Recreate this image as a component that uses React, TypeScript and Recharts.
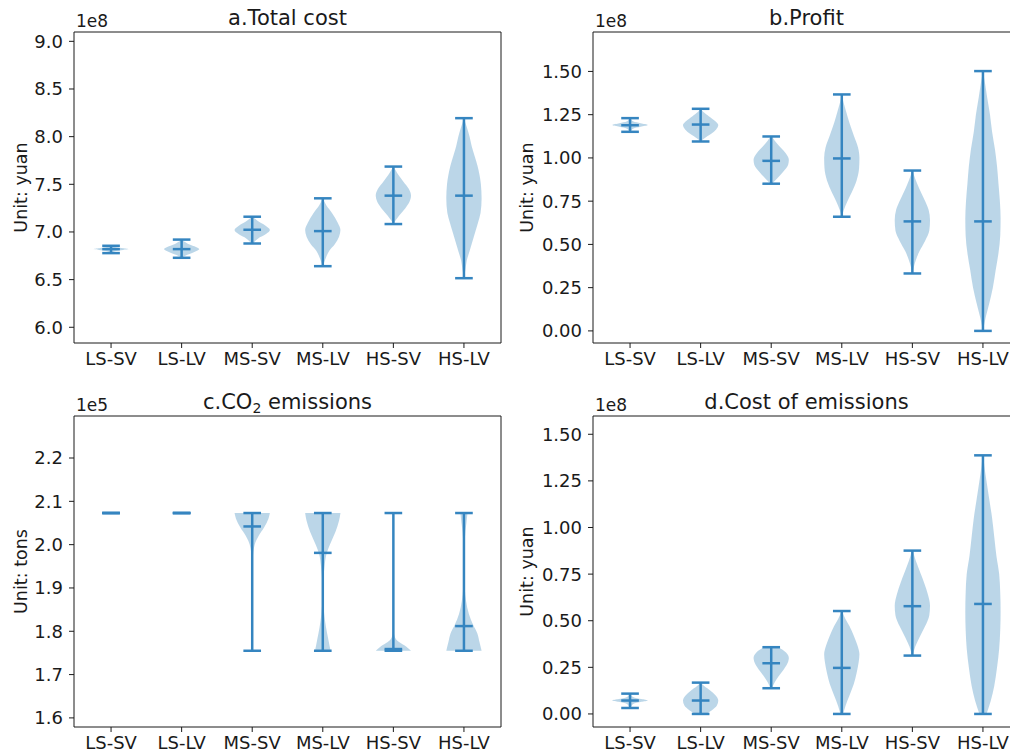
import { ComposedChart, Area, Line, XAxis, YAxis, ReferenceArea } from 'recharts';

const CATEGORIES = ['LS-SV', 'LS-LV', 'MS-SV', 'MS-LV', 'HS-SV', 'HS-LV'];
const POSITIONS = [1, 2, 3, 4, 5, 6];
const X_RANGE = [0.475, 6.525];

// a. Total cost (1e8 yuan)
const COST_MIN = [6.778, 6.729, 6.879, 6.641, 7.083, 6.515];
const COST_MAX = [6.855, 6.92, 7.16, 7.353, 7.686, 8.194];
const COST_MEDIAN = [6.82, 6.82, 7.023, 7.009, 7.381, 7.381];
const COST_TICKS = [6.0, 6.5, 7.0, 7.5, 8.0, 8.5, 9.0];
const COST_RANGE = [5.835, 9.098];
// violin outlines: [value, half width]
const COST_SHAPES = [
  [[6.778, 0.01], [6.8, 0.07], [6.812, 0.17], [6.82, 0.25], [6.83, 0.17], [6.84, 0.07], [6.855, 0.01]],
  [[6.729, 0], [6.76, 0.08], [6.79, 0.18], [6.82, 0.25], [6.85, 0.18], [6.88, 0.08], [6.92, 0]],
  [[6.879, 0.01], [6.93, 0.08], [6.98, 0.2], [7.02, 0.25], [7.07, 0.18], [7.12, 0.07], [7.16, 0.01]],
  [[6.641, 0], [6.68, 0.02], [6.74, 0.05], [6.8, 0.09], [6.87, 0.17], [6.95, 0.23], [7.02, 0.25], [7.1, 0.21], [7.2, 0.13], [7.28, 0.05], [7.353, 0]],
  [[7.083, 0], [7.12, 0.03], [7.17, 0.08], [7.25, 0.17], [7.32, 0.23], [7.38, 0.25], [7.45, 0.22], [7.53, 0.14], [7.6, 0.07], [7.65, 0.03], [7.686, 0]],
  [[6.515, 0], [6.6, 0.02], [6.7, 0.04], [6.8, 0.08], [6.9, 0.12], [7.0, 0.16], [7.1, 0.2], [7.2, 0.235], [7.35, 0.25], [7.5, 0.24], [7.6, 0.22], [7.7, 0.19], [7.8, 0.15], [7.9, 0.11], [8.0, 0.08], [8.1, 0.04], [8.194, 0]],
];

// b. Profit (1e8 yuan)
const PROFIT_MIN = [1.151, 1.095, 0.851, 0.66, 0.332, 0];
const PROFIT_MAX = [1.23, 1.284, 1.124, 1.367, 0.927, 1.502];
const PROFIT_MEDIAN = [1.189, 1.193, 0.983, 0.997, 0.633, 0.633];
const PROFIT_TICKS = [0, 0.25, 0.5, 0.75, 1.0, 1.25, 1.5];
const PROFIT_RANGE = [-0.07, 1.728];
const PROFIT_SHAPES = [
  [[1.151, 0.005], [1.17, 0.05], [1.18, 0.15], [1.19, 0.25], [1.2, 0.15], [1.21, 0.05], [1.23, 0.005]],
  [[1.095, 0], [1.11, 0.04], [1.14, 0.15], [1.165, 0.22], [1.19, 0.25], [1.215, 0.2], [1.24, 0.12], [1.265, 0.04], [1.284, 0]],
  [[0.851, 0.01], [0.88, 0.08], [0.92, 0.17], [0.96, 0.24], [0.99, 0.25], [1.03, 0.2], [1.07, 0.11], [1.1, 0.05], [1.124, 0.01]],
  [[0.66, 0], [0.7, 0.03], [0.75, 0.08], [0.8, 0.14], [0.87, 0.21], [0.94, 0.245], [1.0, 0.25], [1.06, 0.23], [1.13, 0.17], [1.2, 0.11], [1.27, 0.06], [1.32, 0.025], [1.367, 0]],
  [[0.332, 0], [0.37, 0.02], [0.41, 0.05], [0.46, 0.1], [0.52, 0.18], [0.58, 0.24], [0.64, 0.25], [0.7, 0.23], [0.76, 0.17], [0.82, 0.1], [0.87, 0.05], [0.927, 0]],
  [[0, 0], [0.08, 0.04], [0.16, 0.09], [0.25, 0.14], [0.35, 0.18], [0.45, 0.22], [0.55, 0.245], [0.65, 0.25], [0.75, 0.24], [0.85, 0.22], [0.95, 0.2], [1.05, 0.17], [1.15, 0.13], [1.25, 0.1], [1.35, 0.06], [1.43, 0.03], [1.502, 0]],
];

// c. CO2 emissions (1e5 tons)
const CO2_MIN = [2.073, 2.073, 1.755, 1.755, 1.755, 1.755];
const CO2_MAX = [2.073, 2.073, 2.073, 2.073, 2.073, 2.073];
const CO2_MEDIAN = [2.073, 2.073, 2.042, 1.981, 1.759, 1.812];
const CO2_TICKS = [1.6, 1.7, 1.8, 1.9, 2.0, 2.1, 2.2];
const CO2_RANGE = [1.579, 2.297];
const CO2_SHAPES = [
  [],
  [],
  [[1.755, 0.005], [1.9, 0.005], [1.97, 0.01], [2.0, 0.035], [2.02, 0.09], [2.04, 0.17], [2.06, 0.23], [2.073, 0.25]],
  [[1.755, 0.11], [1.78, 0.08], [1.81, 0.045], [1.84, 0.02], [1.88, 0.006], [1.92, 0.01], [1.95, 0.025], [1.98, 0.055], [2.0, 0.1], [2.03, 0.18], [2.055, 0.23], [2.073, 0.25]],
  [[1.755, 0.25], [1.765, 0.18], [1.775, 0.08], [1.785, 0.025], [1.8, 0.006], [2.073, 0.004]],
  [[1.755, 0.25], [1.775, 0.22], [1.795, 0.19], [1.815, 0.13], [1.84, 0.07], [1.87, 0.03], [1.9, 0.012], [1.95, 0.006], [2.0, 0.01], [2.03, 0.02], [2.05, 0.035], [2.073, 0.05]],
];

// d. Cost of emissions (1e8 yuan)
const EMIT_MIN = [0.032, 0, 0.138, 0, 0.313, 0];
const EMIT_MAX = [0.109, 0.168, 0.358, 0.552, 0.876, 1.387];
const EMIT_MEDIAN = [0.072, 0.072, 0.272, 0.247, 0.578, 0.59];
const EMIT_TICKS = [0, 0.25, 0.5, 0.75, 1.0, 1.25, 1.5];
const EMIT_RANGE = [-0.07, 1.598];
const EMIT_SHAPES = [
  [[0.032, 0.005], [0.055, 0.05], [0.065, 0.16], [0.072, 0.25], [0.08, 0.16], [0.09, 0.05], [0.109, 0.005]],
  [[0, 0.08], [0.02, 0.16], [0.045, 0.23], [0.072, 0.25], [0.1, 0.21], [0.125, 0.14], [0.15, 0.05], [0.168, 0.005]],
  [[0.138, 0.01], [0.17, 0.05], [0.2, 0.1], [0.24, 0.18], [0.28, 0.24], [0.3, 0.25], [0.33, 0.21], [0.358, 0.1]],
  [[0, 0.02], [0.04, 0.05], [0.1, 0.11], [0.16, 0.17], [0.22, 0.21], [0.28, 0.24], [0.32, 0.25], [0.37, 0.22], [0.42, 0.17], [0.47, 0.11], [0.51, 0.05], [0.552, 0.005]],
  [[0.313, 0.005], [0.36, 0.04], [0.41, 0.1], [0.47, 0.18], [0.53, 0.24], [0.58, 0.25], [0.64, 0.22], [0.7, 0.17], [0.76, 0.11], [0.82, 0.05], [0.876, 0.005]],
  [[0, 0.05], [0.07, 0.11], [0.15, 0.16], [0.25, 0.2], [0.35, 0.23], [0.45, 0.245], [0.55, 0.25], [0.65, 0.245], [0.75, 0.23], [0.85, 0.19], [0.95, 0.16], [1.05, 0.13], [1.15, 0.09], [1.25, 0.05], [1.33, 0.02], [1.387, 0.005]],
];

const FONT = 'DejaVu Sans';
const INK = '#1a1a1a';
const BODY = '#1f77b4';
const LINE = '#3585c0';
const CAP = 0.125;

const PLOT_W = 427;
const PLOT_H = 311;
const Y_W = 74;
const X_H = 40;
const M_TOP = 5;
const M_RIGHT = 5;
const CHART_W = Y_W + PLOT_W + M_RIGHT;
const CHART_H = M_TOP + PLOT_H + X_H;

function ViolinPanel({ left, top, mins, maxs, medians, shapes, ticks, range, digits }: any) {
  const tickStyle = { fill: INK, fontSize: 18, fontFamily: FONT };
  return (
    <div style={{ position: 'absolute', left: left - Y_W, top: top - M_TOP, width: CHART_W, height: CHART_H }}>
      <ComposedChart
        layout="vertical"
        width={CHART_W}
        height={CHART_H}
        margin={{ top: M_TOP, right: M_RIGHT, bottom: 0, left: 0 }}
      >
        <XAxis
          type="number"
          domain={X_RANGE}
          allowDataOverflow
          ticks={POSITIONS}
          tickFormatter={(v: number) => CATEGORIES[v - 1]}
          axisLine={false}
          tickLine={{ stroke: INK }}
          tickSize={5}
          tickMargin={4}
          tick={tickStyle}
          height={X_H}
          interval={0}
        />
        <YAxis
          type="number"
          dataKey="v"
          domain={range}
          allowDataOverflow
          reversed
          ticks={ticks}
          tickFormatter={(v: number) => v.toFixed(digits)}
          axisLine={false}
          tickLine={{ stroke: INK }}
          tickSize={5}
          tickMargin={6}
          tick={tickStyle}
          width={Y_W}
          interval={0}
        />
        {shapes.map((shape: number[][], i: number) =>
          shape.length ? (
            <Area
              key={'body' + i}
              data={shape.map(([v, hw]) => ({ v, w: [POSITIONS[i] - hw, POSITIONS[i] + hw] }))}
              dataKey="w"
              type="monotone"
              fill={BODY}
              fillOpacity={0.3}
              stroke="none"
              isAnimationActive={false}
            />
          ) : null
        )}
        {POSITIONS.map((p, i) => (
          <Line
            key={'bar' + i}
            data={[{ v: mins[i], x: p }, { v: maxs[i], x: p }]}
            dataKey="x"
            stroke={LINE}
            strokeWidth={2.5}
            dot={false}
            activeDot={false}
            isAnimationActive={false}
          />
        ))}
        {[mins, maxs, medians].flatMap((vals: number[], k: number) =>
          POSITIONS.map((p, i) => (
            <Line
              key={'cap' + k + '-' + i}
              data={[{ v: vals[i], x: p - CAP }, { v: vals[i], x: p + CAP }]}
              dataKey="x"
              stroke={LINE}
              strokeWidth={2.5}
              dot={false}
              activeDot={false}
              isAnimationActive={false}
            />
          ))
        )}
        <ReferenceArea
          x1={X_RANGE[0]}
          x2={X_RANGE[1]}
          y1={range[0]}
          y2={range[1]}
          fill="none"
          stroke={INK}
          strokeWidth={1}
          ifOverflow="visible"
        />
      </ComposedChart>
    </div>
  );
}

const PANELS = [
  { left: 74, top: 32, title: 'a.Total cost', offset: '1e8', yLabel: 'Unit: yuan', labelGap: 53 },
  { left: 593, top: 32, title: 'b.Profit', offset: '1e8', yLabel: 'Unit: yuan', labelGap: 66 },
  { left: 74, top: 416, title: 'c.CO2 emissions', offset: '1e5', yLabel: 'Unit: tons', labelGap: 53 },
  { left: 593, top: 416, title: 'd.Cost of emissions', offset: '1e8', yLabel: 'Unit: yuan', labelGap: 66 },
];

export default function App() {
  return (
    <div style={{ position: 'absolute', left: 0, top: 0, width: 1010, height: 753, overflow: 'hidden', background: '#fff', fontFamily: FONT }}>
      <ViolinPanel left={74} top={32} mins={COST_MIN} maxs={COST_MAX} medians={COST_MEDIAN} shapes={COST_SHAPES} ticks={COST_TICKS} range={COST_RANGE} digits={1} />
      <ViolinPanel left={593} top={32} mins={PROFIT_MIN} maxs={PROFIT_MAX} medians={PROFIT_MEDIAN} shapes={PROFIT_SHAPES} ticks={PROFIT_TICKS} range={PROFIT_RANGE} digits={2} />
      <ViolinPanel left={74} top={416} mins={CO2_MIN} maxs={CO2_MAX} medians={CO2_MEDIAN} shapes={CO2_SHAPES} ticks={CO2_TICKS} range={CO2_RANGE} digits={1} />
      <ViolinPanel left={593} top={416} mins={EMIT_MIN} maxs={EMIT_MAX} medians={EMIT_MEDIAN} shapes={EMIT_SHAPES} ticks={EMIT_TICKS} range={EMIT_RANGE} digits={2} />
      <svg width={1010} height={753} style={{ position: 'absolute', left: 0, top: 0, pointerEvents: 'none' }}>
        {PANELS.map((p) => (
          <g key={p.title} fill={INK} fontFamily={FONT}>
            <text x={p.left + PLOT_W / 2} y={p.top - 7.5} textAnchor="middle" fontSize={21}>
              {p.title.startsWith('c.') ? (
                <>
                  c.CO<tspan fontSize={14} dy={4}>2</tspan>
                  <tspan dy={-4}> emissions</tspan>
                </>
              ) : (
                p.title
              )}
            </text>
            <text x={p.left + 2} y={p.top - 5} fontSize={17}>
              {p.offset}
            </text>
            <text
              x={p.left - p.labelGap}
              y={p.top + PLOT_H / 2}
              textAnchor="middle"
              dominantBaseline="central"
              fontSize={17.5}
              transform={`rotate(-90 ${p.left - p.labelGap} ${p.top + PLOT_H / 2})`}
            >
              {p.yLabel}
            </text>
          </g>
        ))}
      </svg>
    </div>
  );
}
